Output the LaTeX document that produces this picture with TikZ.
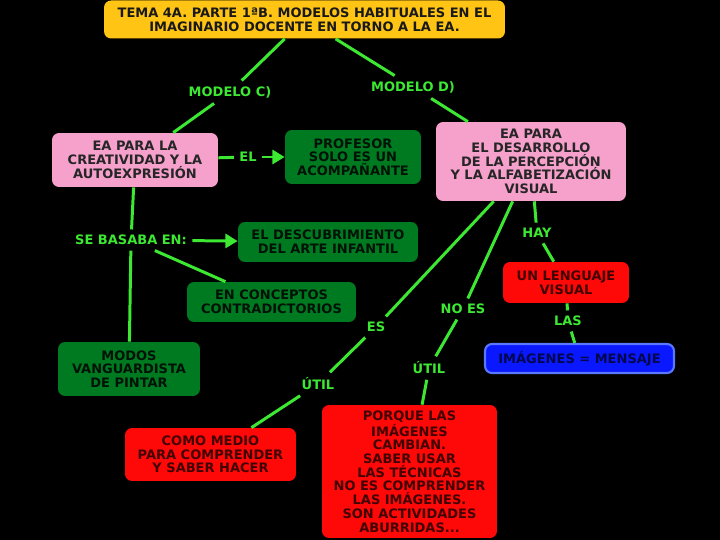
\documentclass[tikz,border=0pt]{standalone}
\usepackage{fontspec}
\setmainfont{DejaVu Sans}
\usetikzlibrary{arrows.meta,positioning}

\definecolor{mapyellow}{RGB}{255,196,20}
\definecolor{mappink}{RGB}{246,160,204}
\definecolor{mapgreen}{RGB}{0,122,32}
\definecolor{mapred}{RGB}{255,8,8}
\definecolor{mapblue}{RGB}{10,24,255}
\definecolor{mapblueedge}{RGB}{90,120,255}
\definecolor{mapline}{RGB}{60,232,50}

\begin{document}
\begin{tikzpicture}[x=0.02cm, y=-0.02cm,
  font=\fontsize{7.4}{7.8}\selectfont\bfseries,
  box/.style={rounded corners=4pt, align=center, inner sep=0pt},
  titlebox/.style={box, fill=mapyellow, text=black!90},
  pinkbox/.style={box, fill=mappink, text=black!85},
  greenbox/.style={box, fill=mapgreen, text=black!85!mapgreen},
  redbox/.style={box, fill=mapred, text=black!75!mapred},
  bluebox/.style={box, fill=mapblue, draw=mapblueedge, line width=1.2pt, text=black!70!mapblue},
  lbl/.style={text=mapline, inner sep=3pt},
  conn/.style={draw=mapline, line width=1.7pt},
  arr/.style={conn, -{Triangle[length=7pt,width=8pt]}}]
\fill[black] (0,0) rectangle (720,540);

% title
\node[titlebox, minimum width=8.02cm, minimum height=0.76cm] (tema) at (304.5,19.5)
  {TEMA 4A. PARTE 1ªB. MODELOS HABITUALES EN EL\\IMAGINARIO DOCENTE EN TORNO A LA EA.};
\node[lbl] (modc) at (230,92) {MODELO C)};
\node[lbl] (modd) at (413,87) {MODELO D)};

% modelo C
\node[pinkbox, minimum width=3.32cm, minimum height=1.08cm] (creat) at (135,160)
  {EA PARA LA\\CREATIVIDAD Y LA\\AUTOEXPRESIÓN};
\node[lbl] (el) at (248,157) {EL};
\node[greenbox, minimum width=2.72cm, minimum height=1.08cm] (profe) at (353,157)
  {PROFESOR\\SOLO ES UN\\ACOMPAÑANTE};
\node[lbl] (basaba) at (131,240) {SE BASABA EN:};
\node[greenbox, minimum width=3.6cm, minimum height=0.8cm] (descub) at (328,242)
  {EL DESCUBRIMIENTO\\DEL ARTE INFANTIL};
\node[greenbox, minimum width=3.38cm, minimum height=0.8cm] (concep) at (271.5,302)
  {EN CONCEPTOS\\CONTRADICTORIOS};
\node[greenbox, minimum width=2.84cm, minimum height=1.08cm] (modos) at (129,369)
  {MODOS\\VANGUARDISTA\\DE PINTAR};

% modelo D
\node[pinkbox, minimum width=3.8cm, minimum height=1.58cm] (percep) at (531,161.5)
  {EA PARA\\EL DESARROLLO\\DE LA PERCEPCIÓN\\Y LA ALFABETIZACIÓN\\VISUAL};
\node[lbl] (es) at (376,327) {ES};
\node[lbl] (util) at (318,384) {ÚTIL};
\node[redbox, minimum width=3.42cm, minimum height=1.06cm] (medio) at (210.5,454.5)
  {COMO MEDIO\\PARA COMPRENDER\\Y SABER HACER};
\node[lbl] (noes) at (463,309) {NO ES};
\node[lbl] (utilb) at (429,368) {ÚTIL};
\node[redbox, minimum width=3.5cm, minimum height=2.66cm] (porque) at (409.5,471.5)
  {PORQUE LAS\\IMÁGENES\\CAMBIAN.\\SABER USAR\\LAS TÉCNICAS\\NO ES COMPRENDER\\LAS IMÁGENES.\\SON ACTIVIDADES\\ABURRIDAS...};
\node[lbl] (hay) at (537,233) {HAY};
\node[redbox, minimum width=2.52cm, minimum height=0.82cm] (lengua) at (566,282.5)
  {UN LENGUAJE\\VISUAL};
\node[lbl] (las) at (568,321) {LAS};
\node[bluebox, minimum width=3.78cm, minimum height=0.58cm] (mensaje) at (579.5,358.5)
  {IMÁGENES = MENSAJE};

% connectors
\draw[conn] (tema) -- (modc);
\draw[conn] (modc) -- (creat);
\draw[conn] (tema) -- (modd);
\draw[conn] (modd) -- (percep);
\draw[conn] (creat) -- (el);
\draw[arr] (el) -- (profe);
\draw[conn] (creat) -- (basaba);
\draw[arr] (basaba) -- (descub);
\draw[conn] (basaba) -- (concep);
\draw[conn] (basaba) -- (modos);
\draw[conn] (percep) -- (es);
\draw[conn] (es) -- (util);
\draw[conn] (util) -- (medio);
\draw[conn] (percep) -- (noes);
\draw[conn] (noes) -- (utilb);
\draw[conn] (utilb) -- (porque);
\draw[conn] (percep) -- (hay);
\draw[conn] (hay) -- (lengua);
\draw[conn] (lengua) -- (las);
\draw[conn] (las) -- (mensaje);
\end{tikzpicture}
\end{document}
